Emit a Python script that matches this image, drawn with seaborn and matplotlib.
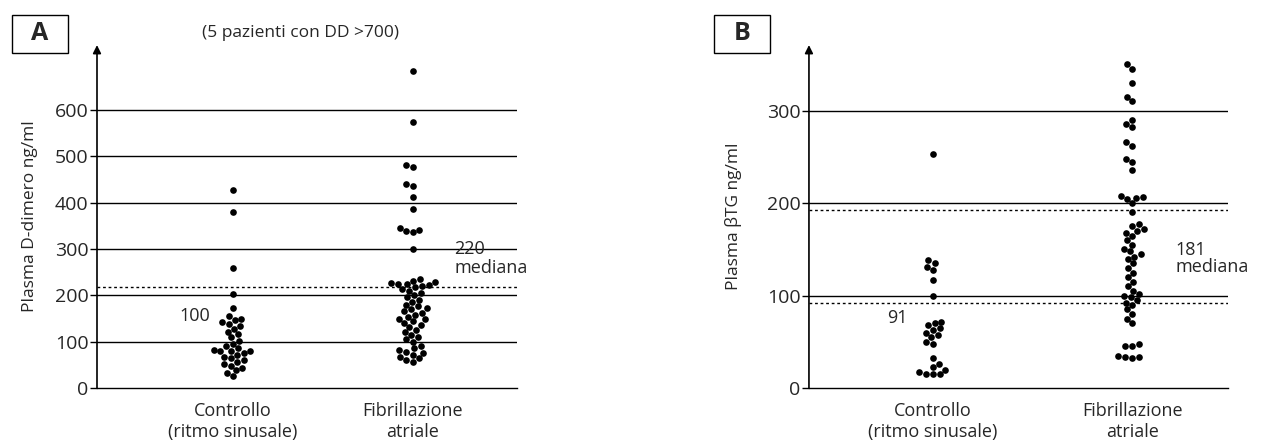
import numpy as np
import pandas as pd
import seaborn as sns
import matplotlib.pyplot as plt

sns.set_theme(style="white")
plt.rcParams['font.family'] = ['Open Sans', 'DejaVu Sans']

groups = ["Controllo\n(ritmo sinusale)", "Fibrillazione\natriale"]

# panel A - D-dimero (ng/ml)
dd_controllo = [428, 380, 258, 202, 172, 155, 150, 146, 142, 138, 134, 128, 122, 116,
                110, 102, 96, 90, 86, 82, 80, 80, 79, 76, 72, 68, 64, 60, 56, 52,
                48, 44, 38, 32, 25]
dd_fa = [685, 575, 482, 476, 440, 437, 412, 386, 346, 342, 338, 336, 300, 236,
         232, 228, 226, 225, 224, 222, 220, 218, 214, 210, 205, 200, 196, 190,
         186, 180, 176, 172, 170, 166, 162, 158, 154, 150, 148, 144, 140, 136,
         132, 126, 120, 115, 110, 105, 100, 90, 86, 82, 78, 75, 72, 68, 64, 60, 56]
dd_mediana = 217
dd_ticks = [0, 100, 200, 300, 400, 500, 600]

# panel B - beta-tromboglobulina (ng/ml)
btg_controllo = [253, 138, 135, 131, 128, 117, 100, 72, 70, 68, 65, 63, 60, 57, 55,
                 50, 48, 33, 26, 23, 20, 17, 15, 15, 15]
btg_fa = [350, 345, 330, 315, 310, 290, 286, 282, 266, 262, 248, 245, 236, 208,
          207, 206, 205, 200, 190, 178, 175, 172, 170, 168, 165, 160, 155, 150,
          148, 145, 142, 140, 135, 130, 125, 120, 115, 110, 105, 102, 100, 98,
          95, 92, 90, 85, 80, 75, 70, 48, 46, 45, 35, 34, 34, 33]
btg_mediane = [193, 92]
btg_ticks = [0, 100, 200, 300]

dfA = pd.DataFrame({"gruppo": [groups[0]] * len(dd_controllo) + [groups[1]] * len(dd_fa),
                    "valore": dd_controllo + dd_fa})
dfB = pd.DataFrame({"gruppo": [groups[0]] * len(btg_controllo) + [groups[1]] * len(btg_fa),
                    "valore": btg_controllo + btg_fa})

fig = plt.figure(figsize=(12.63, 4.42), dpi=100)
axA = fig.add_axes([0.0768, 0.122, 0.3325, 0.776])
axB = fig.add_axes([0.6405, 0.122, 0.332, 0.776])


def style_axis(ax, df, ticks, ymax, xlim, ylabel, pad):
    sns.swarmplot(data=df, x="gruppo", y="valore", order=groups, color="black",
                  size=4.8, ax=ax, zorder=3)
    for t in ticks[1:]:
        ax.axhline(t, color="black", lw=1.0, zorder=1)
    ax.set_ylim(0, ymax)
    ax.set_xlim(*xlim)
    ax.set_yticks(ticks)
    ax.set_xlabel("")
    ax.set_ylabel(ylabel, fontsize=12.5, labelpad=pad)
    ax.tick_params(axis="y", direction="out", length=5, width=1, color="black",
                   labelsize=14, left=True, pad=1)
    ax.tick_params(axis="x", length=0, labelsize=13, pad=10)
    for s in ["top", "right", "left"]:
        ax.spines[s].set_visible(False)
    ax.spines["bottom"].set_color("black")
    ax.spines["bottom"].set_linewidth(1.0)
    ax.annotate("", xy=(0, 1.0), xytext=(0, 0), xycoords="axes fraction",
                arrowprops=dict(arrowstyle="-|>", color="black", lw=1.2,
                                mutation_scale=12, shrinkA=0, shrinkB=0))


style_axis(axA, dfA, dd_ticks, 740, (-0.757, 1.579), "Plasma D-dimero ng/ml", 12)
style_axis(axB, dfB, btg_ticks, 371, (-0.623, 1.482), "Plasma βTG ng/ml", 18)

axA.axhline(dd_mediana, color="black", lw=1.0, ls=(0, (2, 2)), zorder=1)
for m in btg_mediane:
    axB.axhline(m, color="black", lw=1.0, ls=(0, (2, 2)), zorder=1)

axA.text(-0.13, 155, "100", fontsize=13, ha="right", va="center")
axA.text(1.23, 300, "220", fontsize=13, ha="left", va="center")
axA.text(1.23, 259, "mediana", fontsize=13, ha="left", va="center")
axB.text(-0.126, 76, "91", fontsize=13, ha="right", va="center")
axB.text(1.216, 149, "181", fontsize=13, ha="left", va="center")
axB.text(1.216, 131, "mediana", fontsize=13, ha="left", va="center")

fig.text(301 / 1263, 1 - 33 / 442, "(5 pazienti con DD >700)", fontsize=12.5,
         ha="center", va="center")

box = dict(boxstyle="square,pad=0.25", fc="white", ec="black", lw=1.0)
fig.text(40 / 1263, 1 - 34 / 442, "  A  ", fontsize=18, fontweight="bold",
         ha="center", va="center", bbox=box)
fig.text(742 / 1263, 1 - 34 / 442, "  B  ", fontsize=18, fontweight="bold",
         ha="center", va="center", bbox=box)

fig.savefig("out.png", dpi=100, facecolor="white")
